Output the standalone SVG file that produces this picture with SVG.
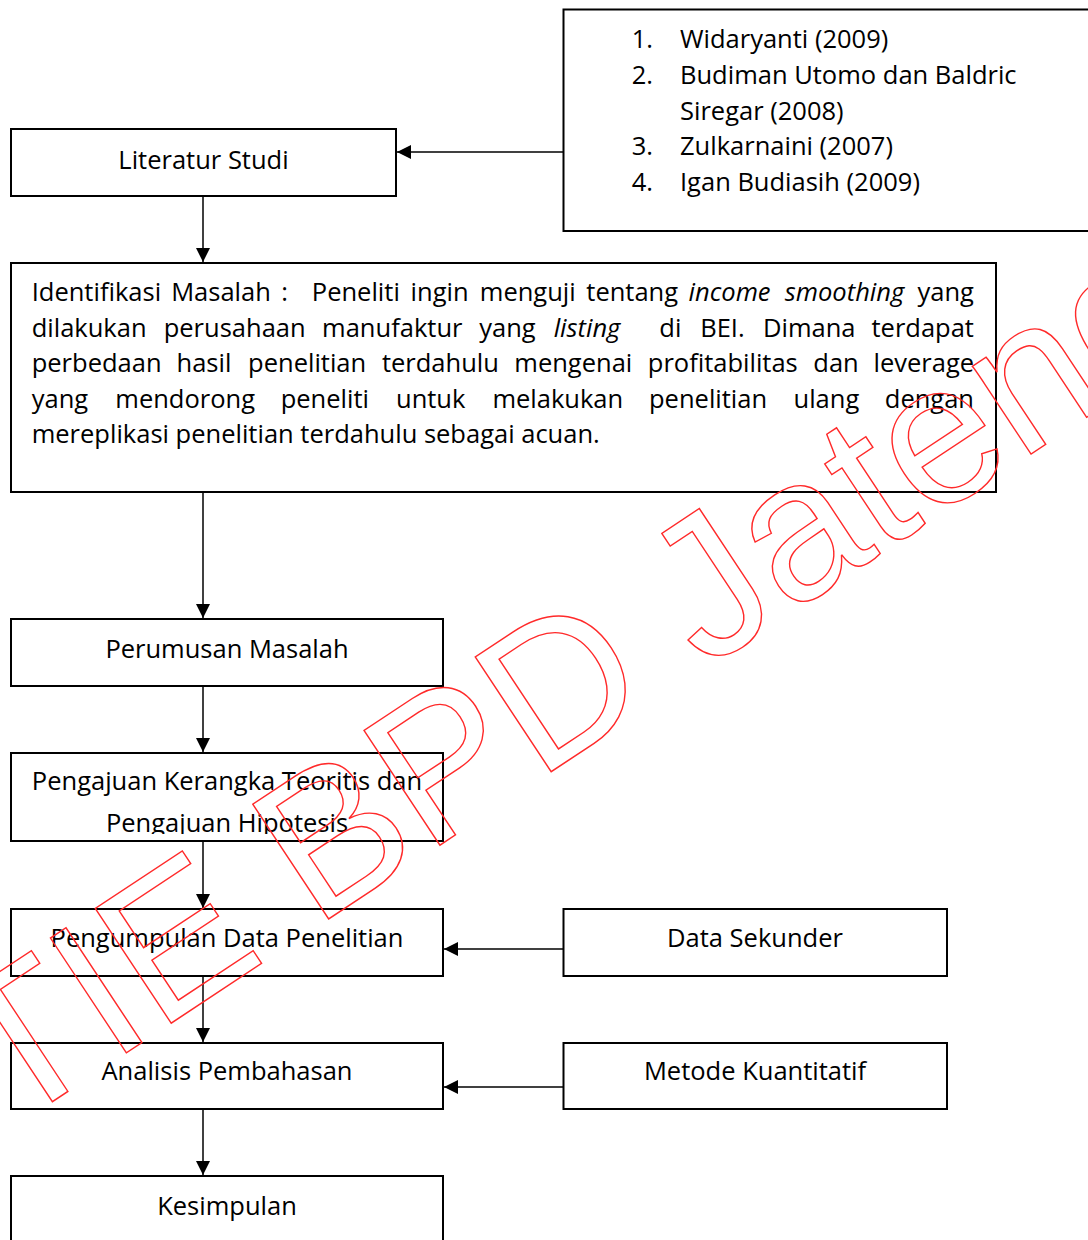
<svg xmlns="http://www.w3.org/2000/svg" width="1088" height="1240" viewBox="0 0 1088 1240">
<style>
.box{fill:#fff;stroke:#000;stroke-width:2}
.t{font-family:"Open Sans","Liberation Sans",sans-serif;font-size:25.5px;fill:#000}
.c{text-anchor:middle}
.i{font-style:italic}
.con{stroke:#000;stroke-width:1.5;fill:none;marker-end:url(#ah)}
.wm{font-family:"Liberation Sans",Arial,sans-serif;font-size:200px;fill:none;stroke:#ff2a2a;stroke-width:1.4}
</style>
<defs>
<marker id="ah" markerWidth="14" markerHeight="14" refX="14" refY="7" orient="auto" markerUnits="userSpaceOnUse"><path d="M0,0 L14,7 L0,14 z" fill="#000"/></marker>
<clipPath id="clipPH"><rect x="12" y="754" width="430" height="80"/></clipPath>
</defs>
<rect width="1088" height="1240" fill="#fff"/>

<g id="ref">
<rect class="box" x="563.5" y="9.5" width="560" height="221.5"/>
<text class="t" x="631.7" y="48">1.</text><text class="t" x="680" y="48">Widaryanti (2009)</text>
<text class="t" x="631.7" y="84">2.</text><text class="t" x="680" y="84">Budiman Utomo dan Baldric</text>
<text class="t" x="680" y="119.5">Siregar (2008)</text>
<text class="t" x="631.7" y="155">3.</text><text class="t" x="680" y="155">Zulkarnaini (2007)</text>
<text class="t" x="631.7" y="190.5">4.</text><text class="t" x="680" y="190.5">Igan Budiasih (2009)</text>
</g>

<g id="literatur">
<rect class="box" x="11" y="129" width="385" height="67"/>
<text class="t c" x="203.5" y="169">Literatur Studi</text>
</g>

<g id="identifikasi">
<rect class="box" x="11" y="263" width="985" height="229"/>
<text class="t" y="301"><tspan x="31.7">Identifikasi</tspan><tspan x="171.2">Masalah</tspan><tspan x="281.3">:</tspan><tspan x="311.8">Peneliti</tspan><tspan x="410.6">ingin</tspan><tspan x="479.8">menguji</tspan><tspan x="586.3">tentang</tspan><tspan x="688.6" class="i">income</tspan><tspan x="784.8" class="i">smoothing</tspan><tspan x="917.5">yang</tspan></text>
<text class="t" y="336.5"><tspan x="31.7">dilakukan</tspan><tspan x="163.7">perusahaan</tspan><tspan x="322.1">manufaktur</tspan><tspan x="479.2">yang</tspan><tspan x="553.7" class="i">listing</tspan><tspan x="659.3">di</tspan><tspan x="700.2">BEI.</tspan><tspan x="763">Dimana</tspan><tspan x="871.5">terdapat</tspan></text>
<text class="t" y="372"><tspan x="31.7">perbedaan</tspan><tspan x="176.5">hasil</tspan><tspan x="248.1">penelitian</tspan><tspan x="381.9">terdahulu</tspan><tspan x="514.3">mengenai</tspan><tspan x="647.8">profitabilitas</tspan><tspan x="813.3">dan</tspan><tspan x="873.5">leverage</tspan></text>
<text class="t" y="407.5"><tspan x="31.7">yang</tspan><tspan x="115.3">mendorong</tspan><tspan x="280.7">peneliti</tspan><tspan x="396">untuk</tspan><tspan x="492.4">melakukan</tspan><tspan x="649">penelitian</tspan><tspan x="793.5">ulang</tspan><tspan x="884.8">dengan</tspan></text>
<text class="t" x="31.7" y="443">mereplikasi penelitian terdahulu sebagai acuan.</text>
</g>

<g id="perumusan">
<rect class="box" x="11" y="619" width="432" height="67"/>
<text class="t c" x="227" y="658">Perumusan Masalah</text>
</g>

<g id="pengajuan">
<rect class="box" x="11" y="753" width="432" height="88"/>
<text class="t c" x="227" y="790">Pengajuan Kerangka Teoritis dan</text>
<text class="t c" x="227" y="832" clip-path="url(#clipPH)">Pengajuan Hipotesis</text>
</g>

<g id="pengumpulan">
<rect class="box" x="11" y="909" width="432" height="67"/>
<text class="t c" x="227" y="947">Pengumpulan Data Penelitian</text>
</g>

<g id="sekunder">
<rect class="box" x="563.5" y="909" width="383.5" height="67"/>
<text class="t c" x="755" y="947">Data Sekunder</text>
</g>

<g id="analisis">
<rect class="box" x="11" y="1043" width="432" height="66"/>
<text class="t c" x="227" y="1080">Analisis Pembahasan</text>
</g>

<g id="metode">
<rect class="box" x="563.5" y="1043" width="383.5" height="66"/>
<text class="t c" x="755" y="1080">Metode Kuantitatif</text>
</g>

<g id="kesimpulan">
<rect class="box" x="11" y="1176" width="432" height="90"/>
<text class="t c" x="227" y="1215">Kesimpulan</text>
</g>

<g id="connectors">
<line class="con" x1="563" y1="152" x2="397" y2="152"/>
<line class="con" x1="203" y1="196" x2="203" y2="262"/>
<line class="con" x1="203" y1="492" x2="203" y2="618"/>
<line class="con" x1="203" y1="686" x2="203" y2="752"/>
<line class="con" x1="203" y1="841" x2="203" y2="908"/>
<line class="con" x1="563" y1="949" x2="444" y2="949"/>
<line class="con" x1="203" y1="976" x2="203" y2="1042"/>
<line class="con" x1="563" y1="1087" x2="444" y2="1087"/>
<line class="con" x1="203" y1="1109" x2="203" y2="1175"/>
</g>

<g id="watermark">
<text class="wm" x="0" y="0" transform="translate(-102,1204) rotate(-33.5)">STIE BPD Jateng</text>
</g>
</svg>
